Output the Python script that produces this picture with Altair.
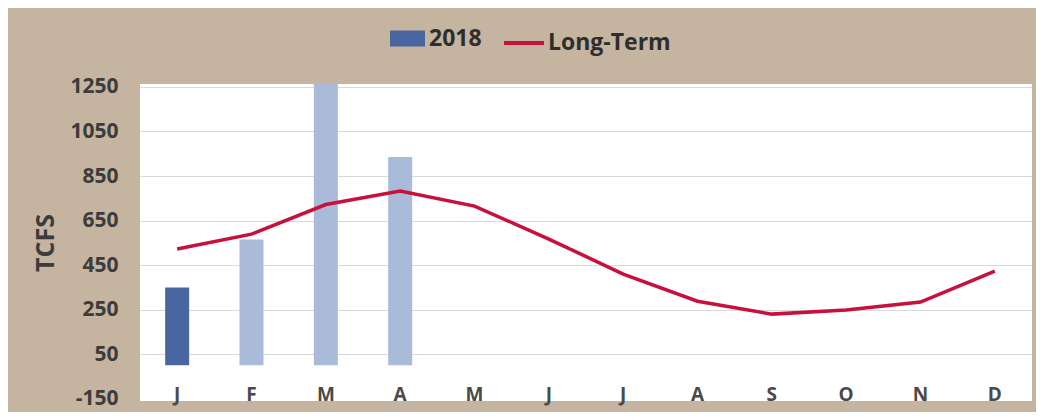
import altair as alt
import pandas as pd

months = ["Jan", "Feb", "Mar", "Apr", "May", "Jun", "Jul", "Aug", "Sep", "Oct", "Nov", "Dec"]
bar_months = ["Jan", "Feb", "Mar", "Apr"]
bar_2018 = [350, 565, 1280, 935]
bar_kind = ["2018", "2018 prior", "2018 prior", "2018 prior"]
long_term = [522, 589, 722, 783, 715, 567, 410, 288, 230, 248, 284, 423]
y_ticks = [-150, 50, 250, 450, 650, 850, 1050, 1250]

bars_df = pd.DataFrame({"month": bar_months, "value": bar_2018, "kind": bar_kind})
line_df = pd.DataFrame({"month": months, "value": long_term, "series": ["Long-Term"] * len(months)})

FONT = "Open Sans"
TXT = "#3c3c3c"

x_enc = alt.X(
    "month:N",
    sort=months,
    scale=alt.Scale(domain=months, paddingInner=0, paddingOuter=0),
    axis=alt.Axis(
        title=None, labelExpr="substring(datum.value, 0, 1)", ticks=False, domain=False,
        labelPadding=-16, labelFont=FONT, labelFontSize=19, labelFontWeight="bold",
        labelColor="#4a4a4a", labelAngle=0, grid=False,
    ),
)
y_scale = alt.Scale(domain=[-160, 1263], nice=False, zero=False)

bars = alt.Chart(bars_df).mark_bar(size=24, clip=True).encode(
    x=x_enc,
    y=alt.Y(
        "value:Q", scale=y_scale,
        axis=alt.Axis(
            values=y_ticks, labelExpr="'' + datum.value",
            title="TCFS", titleFont=FONT, titleFontSize=25,
            titleFontWeight="bold", titleColor=TXT, titlePadding=11,
            labelFont=FONT, labelFontSize=21, labelFontWeight="bold", labelColor=TXT,
            labelPadding=22, ticks=False, domain=False, gridColor="#d9d9d9",
            gridOpacity={"condition": {"test": "datum.value == -150", "value": 0}, "value": 1},
        ),
    ),
    y2=alt.datum(0),
    fill=alt.Fill(
        "kind:N",
        scale=alt.Scale(domain=["2018", "2018 prior"], range=["#4a66a0", "#a9bbd9"]),
        legend=alt.Legend(
            title=None, values=["2018"], orient="none", legendX=250, legendY=-63,
            symbolType="M-1,-0.457H1V0.457H-1Z", symbolSize=1225, symbolStrokeWidth=0,
            labelFont=FONT, labelFontSize=23, labelFontWeight="bold", labelColor="#2e2e2e",
            labelOffset=4,
        ),
    ),
)

line = alt.Chart(line_df).mark_line(strokeWidth=3.5).encode(
    x=alt.X("month:N", sort=months),
    y=alt.Y("value:Q", scale=y_scale),
    stroke=alt.Stroke(
        "series:N",
        scale=alt.Scale(domain=["Long-Term"], range=["#c8103c"]),
        legend=alt.Legend(
            title=None, orient="none", legendX=362, legendY=-63,
            symbolType="stroke", symbolSize=1600, symbolStrokeWidth=4,
            labelFont=FONT, labelFontSize=23, labelFontWeight="bold", labelColor="#2e2e2e",
            labelOffset=2,
        ),
    ),
)

chart = alt.layer(bars, line).properties(
    width=892, height=317,
    background="#c5b49f",
    autosize=alt.AutoSizeParams(type="none"),
    padding={"left": 132, "top": 76, "right": 4, "bottom": 11},
).configure_view(stroke=None, fill="white")

chart.save("out.html", embed_options={"renderer": "svg", "actions": False})
